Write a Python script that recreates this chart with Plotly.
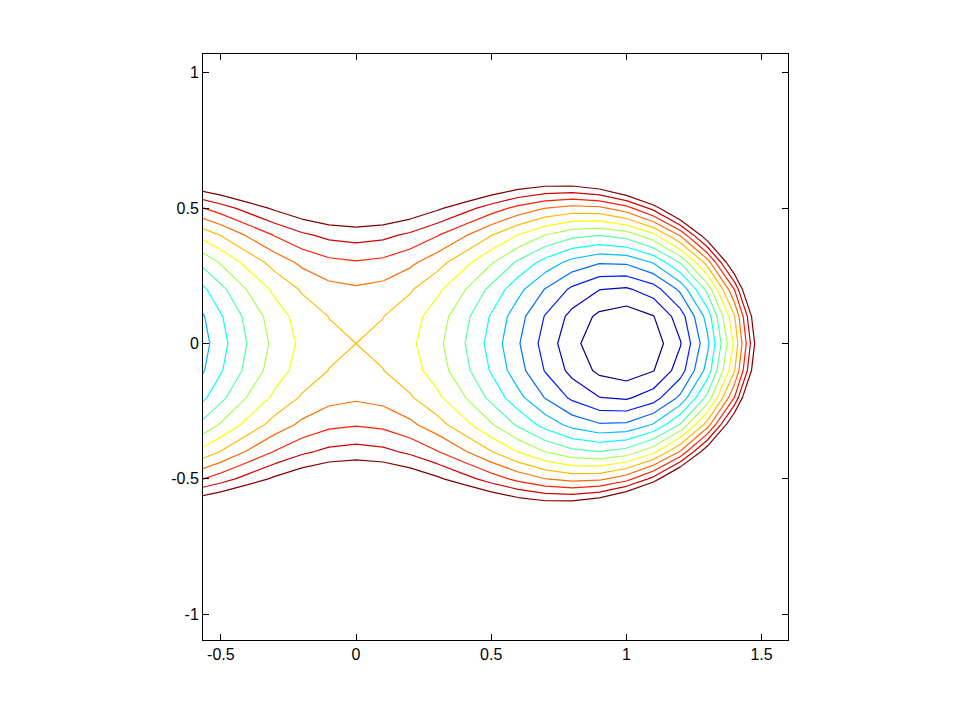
import numpy as np
import plotly.graph_objects as go

# grid of the sampled field (step 0.1)
x_vals = np.round(np.arange(-6, 17) * 0.1, 10)
y_vals = np.round(np.arange(-11, 12) * 0.1, 10)

# field coefficients: z = (g0 + g2*x^2)*y^2 + v2*x^2 + v4*x^4
g0, g2 = 1.07, 1.25
v2, v4 = -1.0, 0.5

# contour levels
level_start, level_end, level_step = -0.45, 0.2, 0.05

X, Y = np.meshgrid(x_vals, y_vals)
Z = (g0 + g2 * X**2) * Y**2 + v2 * X**2 + v4 * X**4

jet = [
    [0.0, "rgb(0,0,128)"],
    [0.125, "rgb(0,0,255)"],
    [0.375, "rgb(0,255,255)"],
    [0.625, "rgb(255,255,0)"],
    [0.875, "rgb(255,0,0)"],
    [1.0, "rgb(128,0,0)"],
]

fig = go.Figure()
fig.add_trace(go.Contour(
    x=x_vals, y=y_vals, z=Z,
    contours=dict(coloring="lines", start=level_start, end=level_end + 1e-9, size=level_step),
    colorscale=jet, zmin=level_start, zmax=level_end,
    line=dict(width=1.2, smoothing=0),
    showscale=False, hoverinfo="skip",
))

axis_common = dict(
    showgrid=False, zeroline=False, showline=True, mirror="ticks",
    linecolor="black", linewidth=1, ticks="inside", ticklen=6,
    tickcolor="black", tickfont=dict(family="Liberation Sans, Arial, sans-serif", size=16, color="black"),
)
fig.update_layout(
    width=958, height=719,
    margin=dict(l=195, r=178, t=46, b=87),
    paper_bgcolor="white", plot_bgcolor="white",
    xaxis=dict(range=[-0.566, 1.598], tickvals=[-0.5, 0, 0.5, 1, 1.5],
               ticktext=["-0.5", "0", "0.5", "1", "1.5"], **axis_common),
    yaxis=dict(range=[-1.095, 1.069], tickvals=[-1, -0.5, 0, 0.5, 1],
               ticktext=["-1", "-0.5", "0", "0.5", "1"], **axis_common),
    showlegend=False,
)
fig.write_html("out.html")
